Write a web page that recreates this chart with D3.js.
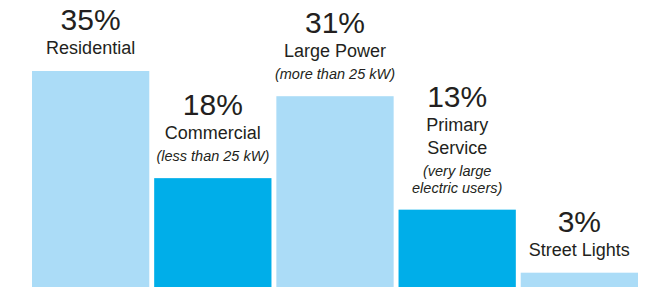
<!DOCTYPE html>
<html><head><meta charset="utf-8">
<script src="https://cdn.jsdelivr.net/npm/d3@7"></script>
<style>html,body{margin:0;padding:0;background:#fff;}svg{display:block;}</style>
</head><body>
<svg id="chart" width="645" height="289"></svg>
<script>
const categories = ["Residential", "Commercial", "Large Power", "Primary Service", "Street Lights"];
const values = [35, 18, 31, 13, 3];
const labelLines = [["Residential"], ["Commercial"], ["Large Power"], ["Primary", "Service"], ["Street Lights"]];
const noteLines = [[], ["(less than 25 kW)"], ["(more than 25 kW)"], ["(very large", "electric users)"], []];

const W = 645, H = 289, baseY = 287;
const colors = ["#abdcf7", "#00aee9"];
const textColor = "#231f20";
const font = "'Liberation Sans', Arial, sans-serif";

const svg = d3.select("#chart");
const x = d3.scaleBand().domain(categories).range([32, 638]).paddingInner(0.04).paddingOuter(0);
const y = d3.scaleLinear().domain([0, 35]).range([291.6, 71]);

svg.selectAll("rect.bar").data(categories).join("rect")
  .attr("class", "bar")
  .attr("x", d => x(d))
  .attr("y", (d, i) => y(values[i]))
  .attr("width", x.bandwidth())
  .attr("height", (d, i) => baseY - y(values[i]))
  .attr("fill", (d, i) => colors[i % 2]);

categories.forEach((c, i) => {
  const cx = x(c) + x.bandwidth() / 2;
  let b = y(values[i]) - 17;
  const g = svg.append("g");
  const notes = noteLines[i];
  for (let k = notes.length - 1; k >= 0; k--) {
    g.append("text").attr("x", cx).attr("y", b).attr("text-anchor", "middle")
      .attr("font-family", font).attr("font-style", "italic").attr("font-size", 14.5)
      .attr("fill", textColor).text(notes[k]);
    b -= (k > 0 ? 16.5 : 22);
  }
  const labels = labelLines[i];
  for (let k = labels.length - 1; k >= 0; k--) {
    g.append("text").attr("x", cx).attr("y", b).attr("text-anchor", "middle")
      .attr("font-family", font).attr("font-size", 18)
      .attr("fill", textColor).text(labels[k]);
    b -= (k > 0 ? 23 : 24);
  }
  g.append("text").attr("x", cx).attr("y", b).attr("text-anchor", "middle")
    .attr("font-family", font).attr("font-size", 30)
    .attr("fill", textColor).text(values[i] + "%");
});
</script>
</body></html>
